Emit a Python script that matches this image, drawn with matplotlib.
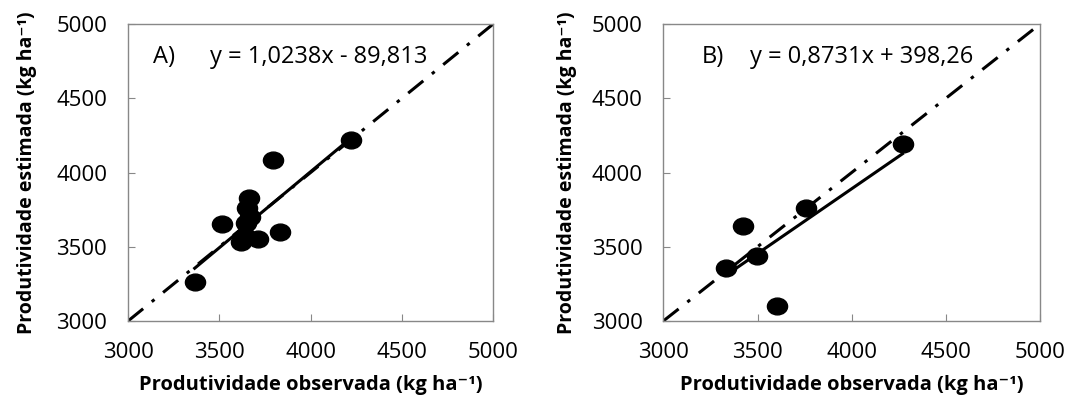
import numpy as np
import matplotlib
matplotlib.use("Agg")
from matplotlib import pyplot as plt
from matplotlib.path import Path
from matplotlib.transforms import Affine2D
from matplotlib.markers import MarkerStyle

plt.rcParams['font.family'] = ['Open Sans', 'DejaVu Sans']
plt.rcParams['lines.scale_dashes'] = False

# Painel A
obs_a = [3365, 3515, 3620, 3640, 3645, 3650, 3660, 3670, 3710, 3830, 3796, 4220]
est_a = [3265, 3655, 3530, 3575, 3660, 3760, 3830, 3700, 3555, 3600, 4085, 4220]
coef_a = (1.0238, -89.813)
eq_a = "y = 1,0238x - 89,813"

# Painel B
obs_b = [3333, 3425, 3496, 3602, 3756, 4270]
est_b = [3360, 3640, 3436, 3100, 3764, 4190]
coef_b = (0.8731, 398.26)
eq_b = "y = 0,8731x + 398,26"

ticks = [3000, 3500, 4000, 4500, 5000]
xlabel = "Produtividade observada (kg ha\u207b\u00b9)"
ylabel = "Produtividade estimada (kg ha\u207b\u00b9)"

# marcador ellittico (nel grafico originale i punti sono un po' schiacciati)
ellipse = Path.unit_circle().transformed(Affine2D().scale(1.2, 1.0))
marker = MarkerStyle(ellipse)

fig = plt.figure(figsize=(10.68, 3.98), dpi=100)
ax_a = fig.add_axes([0.1199, 0.1935, 0.3418, 0.746])
ax_b = fig.add_axes([0.6211, 0.1935, 0.3527, 0.746])


def draw_panel(ax, obs, est, coef, letter, eq, letter_x, eq_x, ylab_x):
    # linea 1:1
    ax.plot(ticks[::len(ticks) - 1], ticks[::len(ticks) - 1], color="black", lw=2.2,
            linestyle=(0, (14, 8, 2.5, 8)), dash_capstyle="butt", zorder=2)
    # retta di regressione tra min e max osservati
    xs = np.array([min(obs), max(obs)])
    ax.plot(xs, coef[0] * xs + coef[1], color="black", lw=2.2, zorder=3)
    ax.plot(obs, est, linestyle="none", marker=marker, markersize=14.5,
            color="black", zorder=4)

    ax.text(letter_x, 4775, letter, fontsize=17, va="center", ha="left")
    ax.text(eq_x, 4775, eq, fontsize=17, va="center", ha="left")

    ax.set_xlim(3000, 5000)
    ax.set_ylim(3000, 5000)
    ax.set_xticks(ticks)
    ax.set_yticks(ticks)
    ax.tick_params(direction="in", length=5, color="#888888", labelsize=16, pad=15)
    for s in ax.spines.values():
        s.set_color("#888888")
        s.set_linewidth(1.0)

    ax.set_xlabel(xlabel, fontsize=14.5, fontweight="bold")
    ax.set_ylabel(ylabel, fontsize=14, fontweight="bold")
    # posizioni delle etichette prese dal riferimento
    ax.xaxis.set_label_coords(0.5, -0.183)
    ax.yaxis.set_label_coords(ylab_x, 0.5)


draw_panel(ax_a, obs_a, est_a, coef_a, "A)", eq_a, 3137, 3450, -0.25)
draw_panel(ax_b, obs_b, est_b, coef_b, "B)", eq_b, 3204, 3461, -0.229)

fig.savefig("out.png", dpi=100)
